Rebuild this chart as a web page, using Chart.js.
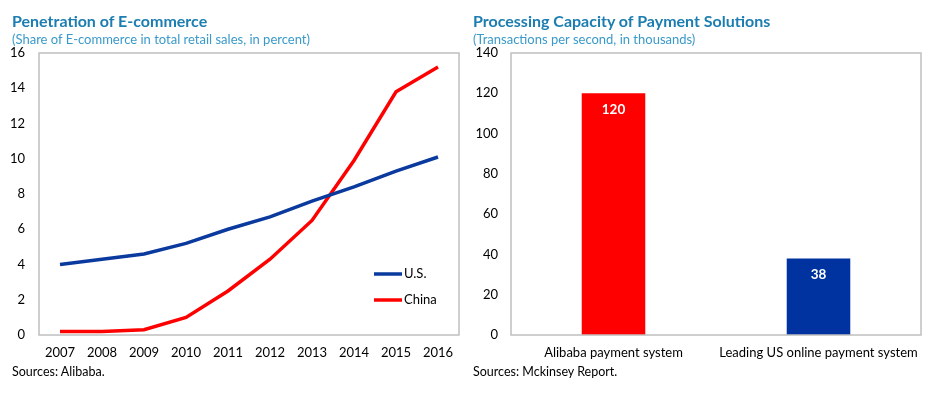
<!DOCTYPE html>
<html>
<head>
<meta charset="utf-8">
<script src="https://cdn.jsdelivr.net/npm/chart.js@4.4.1/dist/chart.umd.min.js"></script>
<style>
  body { margin: 0; background: #fff; font-family: Lato, "Open Sans", sans-serif; }
  #page { position: relative; width: 937px; height: 396px; overflow: hidden; }
  .title { position: absolute; font-weight: bold; font-size: 16px; color: #1b7db0; white-space: nowrap; }
  .sub { position: absolute; font-size: 13px; color: #3a9ac9; white-space: nowrap; }
  .src { position: absolute; font-size: 12.5px; color: #000; white-space: nowrap; }
  canvas { position: absolute; top: 0; }
</style>
</head>
<body>
<div id="page">
  <canvas id="lineChart" style="left:0" width="468" height="396"></canvas>
  <canvas id="barChart" style="left:470px" width="467" height="396"></canvas>
  <div class="title" style="left:12px; top:11px">Penetration of E-commerce</div>
  <div class="sub" style="left:12px; top:31px">(Share of E-commerce in total retail sales, in percent)</div>
  <div class="src" style="left:12px; top:364px">Sources: Alibaba.</div>
  <div class="title" style="left:473px; top:11px">Processing Capacity of Payment Solutions</div>
  <div class="sub" style="left:473px; top:31px">(Transactions per second, in thousands)</div>
  <div class="src" style="left:473px; top:364px">Sources: Mckinsey Report.</div>
</div>
<script>
const years = ['2007', '2008', '2009', '2010', '2011', '2012', '2013', '2014', '2015', '2016'];
const usShare = [4.0, 4.3, 4.6, 5.2, 6.0, 6.7, 7.6, 8.4, 9.3, 10.1];
const chinaShare = [0.2, 0.2, 0.3, 1.0, 2.5, 4.3, 6.5, 9.9, 13.8, 15.2];
const systems = ['Alibaba payment system', 'Leading US online payment system'];
const capacity = [120, 38];

const BLUE = '#0b3a9e';
const RED = '#ff0000';
const tickFont = { family: 'Lato, "Open Sans", sans-serif', size: 13 };

// grey box around the plot area
const frame = {
  id: 'frame',
  afterDraw(chart) {
    const { ctx, chartArea: a } = chart;
    ctx.save();
    ctx.strokeStyle = '#bfbfbf';
    ctx.lineWidth = 1.5;
    ctx.strokeRect(a.left, a.top, a.right - a.left, a.bottom - a.top);
    ctx.restore();
  }
};

// line legend inside the plot, lower right
const innerLegend = {
  id: 'innerLegend',
  afterDatasetsDraw(chart) {
    const { ctx, chartArea: a } = chart;
    ctx.save();
    ctx.font = '13px Lato, "Open Sans", sans-serif';
    ctx.textBaseline = 'middle';
    chart.data.datasets.forEach((ds, i) => {
      const y = a.bottom - 61 + i * 26;
      const x = a.right - 85;
      ctx.strokeStyle = ds.borderColor;
      ctx.lineWidth = 3.5;
      ctx.beginPath();
      ctx.moveTo(x, y);
      ctx.lineTo(x + 28, y);
      ctx.stroke();
      ctx.fillStyle = '#000';
      ctx.fillText(ds.label, x + 30, y);
    });
    ctx.restore();
  }
};

// value labels inside the bars
const barValues = {
  id: 'barValues',
  afterDatasetsDraw(chart) {
    const { ctx } = chart;
    const meta = chart.getDatasetMeta(0);
    ctx.save();
    ctx.font = 'bold 13.5px Lato, "Open Sans", sans-serif';
    ctx.fillStyle = '#fff';
    ctx.textAlign = 'center';
    ctx.textBaseline = 'middle';
    meta.data.forEach((bar, i) => {
      ctx.fillText(chart.data.datasets[0].data[i], bar.x, bar.y + 16);
    });
    ctx.restore();
  }
};

new Chart(document.getElementById('lineChart'), {
  type: 'line',
  data: {
    labels: years,
    datasets: [
      { label: 'U.S.', data: usShare, borderColor: BLUE, borderWidth: 3.5, pointRadius: 0, tension: 0 },
      { label: 'China', data: chinaShare, borderColor: RED, borderWidth: 3.5, pointRadius: 0, tension: 0 }
    ]
  },
  options: {
    responsive: false,
    animation: false,
    layout: { padding: { top: 53, right: 9, bottom: 1, left: 0 } },
    plugins: { legend: { display: false }, tooltip: { enabled: false } },
    scales: {
      x: {
        offset: true,
        grid: { display: false, drawTicks: false },
        border: { display: false },
        ticks: { color: '#000', font: tickFont, padding: 10, maxRotation: 0 },
        afterFit: (s) => { s.height = 60; }
      },
      y: {
        min: 0, max: 16,
        grid: { display: false, drawTicks: false },
        border: { display: false },
        ticks: { stepSize: 2, color: '#000', font: tickFont, padding: 14 },
        afterFit: (s) => { s.width = 39; }
      }
    }
  },
  plugins: [frame, innerLegend]
});

new Chart(document.getElementById('barChart'), {
  type: 'bar',
  data: {
    labels: systems,
    datasets: [{
      data: capacity,
      backgroundColor: [RED, '#0033a0'],
      categoryPercentage: 1,
      barPercentage: 0.31
    }]
  },
  options: {
    responsive: false,
    animation: false,
    layout: { padding: { top: 53, right: 16, bottom: 1, left: 0 } },
    plugins: { legend: { display: false }, tooltip: { enabled: false } },
    scales: {
      x: {
        grid: { display: false, drawTicks: false },
        border: { display: false },
        ticks: { color: '#000', font: tickFont, padding: 10, maxRotation: 0 },
        afterFit: (s) => { s.height = 60; }
      },
      y: {
        min: 0, max: 140,
        grid: { display: false, drawTicks: false },
        border: { display: false },
        ticks: { stepSize: 20, color: '#000', font: tickFont, padding: 13 },
        afterFit: (s) => { s.width = 41; }
      }
    }
  },
  plugins: [frame, barValues]
});
</script>
</body>
</html>
